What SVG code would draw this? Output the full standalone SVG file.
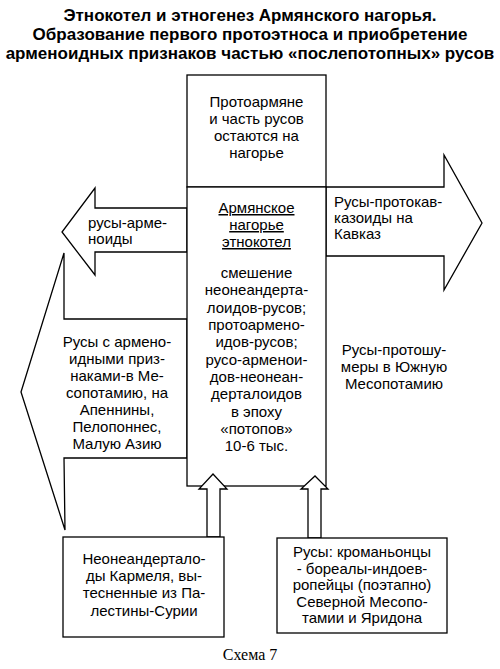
<svg xmlns="http://www.w3.org/2000/svg" width="500" height="669" viewBox="0 0 500 669">
<style>
.s{fill:#fff;stroke:#000;stroke-width:1.3;stroke-linejoin:miter}
.t{font-family:"Liberation Sans",Arial,sans-serif;font-size:15px;fill:#000}
.c{text-anchor:middle}
.h{font-family:"Liberation Sans",Arial,sans-serif;font-size:17px;font-weight:bold;text-anchor:middle;fill:#000}
.u{text-decoration:underline}
</style>
<rect width="500" height="669" fill="#fff"/>
<g id="title">
<text class="h" x="250" y="21">Этнокотел и этногенез Армянского нагорья.</text>
<text class="h" x="250" y="40">Образование первого протоэтноса и приобретение</text>
<text class="h" x="250" y="59">арменоидных признаков частью «послепотопных» русов</text>
</g>
<g id="connectors">
<polygon class="s" points="187,208 95,208 95,188 62,232 95,275 95,252 187,252"/>
<polygon class="s" points="326,187 444,187 444,155 482,223 444,290 444,256 326,256"/>
<polygon class="s" points="187,319 64,319 64,253 21,392 65,530 64,458 187,458"/>
</g>
<g id="top-box">
<rect class="s" x="187" y="75" width="139" height="112"/>
<text class="t c" x="256.5" y="107">Протоармяне</text>
<text class="t c" x="256.5" y="124">и часть русов</text>
<text class="t c" x="256.5" y="141">остаются на</text>
<text class="t c" x="256.5" y="158">нагорье</text>
</g>
<g id="center-box">
<rect class="s" x="187" y="187" width="139" height="299"/>
<text class="t c u" x="256.5" y="213">Армянское</text>
<text class="t c u" x="256.5" y="230">нагорье</text>
<text class="t c u" x="256.5" y="247">этнокотел</text>
<text class="t c" x="256.5" y="278">смешение</text>
<text class="t c" x="256.5" y="295">неонеандерта-</text>
<text class="t c" x="256.5" y="313">лоидов-русов;</text>
<text class="t c" x="256.5" y="330">протоармено-</text>
<text class="t c" x="256.5" y="347">идов-русов;</text>
<text class="t c" x="256.5" y="365">русо-арменои-</text>
<text class="t c" x="256.5" y="382">дов-неонеан-</text>
<text class="t c" x="256.5" y="399">дерталоидов</text>
<text class="t c" x="256.5" y="417">в эпоху</text>
<text class="t c" x="256.5" y="434">«потопов»</text>
<text class="t c" x="256.5" y="451">10-6 тыс.</text>
</g>
<g id="left-small">
<text class="t" x="88" y="228">русы-арме-</text>
<text class="t" x="88" y="244">ноиды</text>
</g>
<g id="right-arrow">
<text class="t" x="334" y="206.5">Русы-протокав-</text>
<text class="t" x="334" y="222.5">казоиды на</text>
<text class="t" x="334" y="238.5">Кавказ</text>
</g>
<g id="left-big">
<text class="t c" x="117" y="347">Русы с армено-</text>
<text class="t c" x="117" y="364">идными приз-</text>
<text class="t c" x="117" y="381">наками-в Ме-</text>
<text class="t c" x="117" y="398">сопотамию, на</text>
<text class="t c" x="117" y="415">Апеннины,</text>
<text class="t c" x="117" y="432">Пелопоннес,</text>
<text class="t c" x="117" y="449">Малую Азию</text>
</g>
<g id="right-text">
<text class="t c" x="394" y="355">Русы-протошу-</text>
<text class="t c" x="394" y="372">меры в Южную</text>
<text class="t c" x="394" y="389">Месопотамию</text>
</g>
<g id="up-arrows">
<polygon class="s" points="207,537 207,489 199,489 213,474 227,489 220,489 220,537"/>
<polygon class="s" points="308,538 308,489 301,489 315,476 328,489 321,489 321,538"/>
</g>
<g id="bottom-left">
<rect class="s" x="63" y="537" width="161" height="100"/>
<text class="t c" x="144" y="564">Неонеандертало-</text>
<text class="t c" x="144" y="581">ды Кармеля, вы-</text>
<text class="t c" x="144" y="598">тесненные из Па-</text>
<text class="t c" x="144" y="616">лестины-Сурии</text>
</g>
<g id="bottom-right">
<rect class="s" x="277" y="538" width="170" height="95"/>
<text class="t c" x="362" y="557">Русы: кроманьонцы</text>
<text class="t c" x="362" y="573.5">- бореалы-индоев-</text>
<text class="t c" x="362" y="590">ропейцы (поэтапно)</text>
<text class="t c" x="362" y="606.5">Северной Месопо-</text>
<text class="t c" x="362" y="623">тамии и Яридона</text>
</g>
<text x="250" y="660" text-anchor="middle" font-family="Liberation Serif,Times New Roman,serif" font-size="16">Схема 7</text>
</svg>
